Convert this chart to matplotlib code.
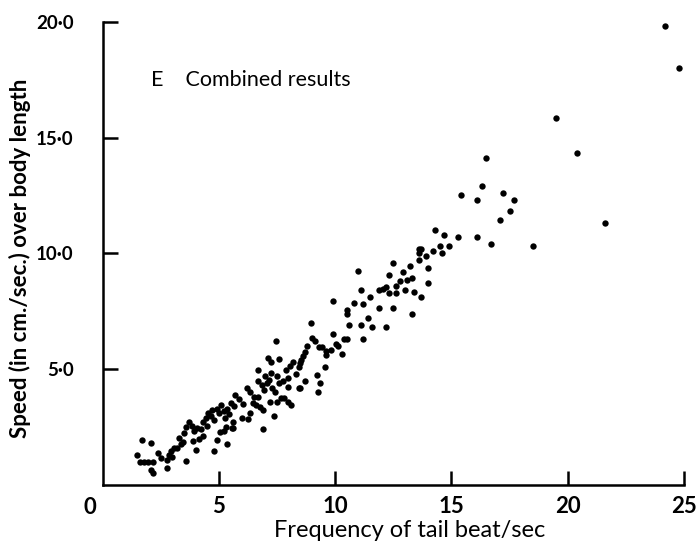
import matplotlib
matplotlib.use("Agg")
import matplotlib.pyplot as plt

# ------------------------------------------------------------------
# Data (tail-beat frequency vs speed/L)
# ------------------------------------------------------------------
freq = [
    # low cluster
    1.7, 2.1, 1.5, 2.4, 1.6, 1.8, 1.95, 2.15, 2.1, 2.15, 2.75, 2.75, 2.85, 2.95,
    3.05, 3.6, 3.2, 3.35, 3.45, 3.0, 3.5, 3.6, 3.7, 3.85, 3.95, 4.05, 4.0, 4.3,
    4.25, 4.3, 4.45, 4.55, 4.65, 4.7, 4.8, 4.8, 4.9, 5.05, 5.3, 5.2, 5.55, 5.35,
    5.6, 5.6, 6.0, 4.9, 5.0, 5.1, 5.2, 5.35, 5.45, 5.5, 5.65, 5.7, 5.85, 5.25,
    4.5, 3.9, 4.15, 2.5, 3.3,
    # middle cluster
    6.25, 6.35, 6.45, 6.6, 6.75, 6.9, 6.35, 6.5, 6.7, 6.7, 6.7, 6.85, 6.95, 7.05,
    7.0, 7.15, 7.25, 7.3, 7.4, 7.2, 7.5, 7.65, 7.8, 7.95, 7.6, 7.75, 7.95, 7.95,
    8.1, 7.1, 7.25, 7.6, 7.45, 8.05, 7.9, 6.2, 6.05, 7.35, 6.9, 7.5,
    # chain 8.4 - 10
    8.45, 8.5, 8.45, 8.5, 8.55, 8.6, 8.7, 8.8, 9.0, 9.15, 9.3, 9.45, 9.6, 9.8,
    10.05, 10.1, 9.55, 9.6, 10.3, 9.25, 9.35, 9.2, 8.95, 8.2, 8.3, 8.7,
    # upper band
    9.9, 10.4, 10.5, 11.2, 10.5, 10.5, 11.4, 10.6, 11.1, 9.9, 10.8, 11.2, 11.5,
    11.1, 11.0, 11.9, 12.5, 11.9, 12.05, 12.2, 12.3, 12.6, 12.6, 12.3, 12.8,
    13.1, 13.3, 13.0, 13.4, 12.9, 13.2, 12.5, 13.7, 14.0, 14.0, 13.6, 13.6,
    13.6, 13.9, 14.2, 14.5, 14.6, 13.7, 14.9, 14.3, 14.7, 15.3, 16.1, 16.7,
    18.5, 15.4, 16.1, 16.3, 16.5, 17.2, 17.7, 17.5, 17.1, 19.5, 20.4, 21.6,
    24.2, 24.8, 13.3, 12.2, 11.6,
]
speed = [
    # low cluster
    1.95, 1.8, 1.3, 1.4, 1.0, 1.0, 1.0, 1.0, 0.65, 0.5, 0.75, 1.1, 1.3, 1.45,
    1.6, 1.05, 1.6, 1.75, 1.85, 1.2, 2.25, 2.5, 2.7, 2.55, 2.35, 2.45, 1.5, 2.1,
    2.4, 2.7, 2.9, 3.1, 3.0, 3.25, 2.8, 1.45, 1.95, 2.3, 2.5, 2.35, 2.45, 1.75,
    2.45, 2.7, 2.9, 3.3, 3.1, 3.45, 3.2, 3.3, 3.05, 3.55, 3.4, 3.9, 3.7, 2.9,
    2.55, 1.9, 2.0, 1.15, 2.05,
    # middle cluster
    2.85, 3.1, 3.55, 3.45, 3.35, 3.25, 4.0, 3.8, 3.8, 4.5, 4.95, 4.3, 4.1, 4.4,
    4.7, 4.55, 4.85, 4.2, 4.0, 3.6, 3.6, 3.75, 3.75, 3.6, 4.4, 4.5, 4.6, 4.25,
    3.45, 5.5, 5.3, 5.45, 6.2, 5.15, 4.95, 4.2, 3.5, 3.0, 2.4, 4.7,
    # chain 8.4 - 10
    4.2, 4.2, 5.1, 5.25, 5.4, 5.55, 5.75, 6.0, 6.35, 6.2, 5.95, 5.95, 5.8, 5.85,
    6.1, 6.0, 5.1, 5.6, 5.65, 4.0, 4.4, 4.75, 7.0, 5.3, 4.8, 4.5,
    # upper band
    6.5, 6.3, 6.3, 6.3, 7.4, 7.55, 7.2, 6.9, 6.9, 7.95, 7.85, 7.8, 8.1,
    8.4, 9.25, 7.65, 7.65, 8.4, 8.45, 8.55, 8.3, 8.3, 8.6, 9.05, 8.8,
    8.85, 8.95, 8.4, 8.35, 9.2, 9.45, 9.6, 8.1, 8.7, 9.35, 10.2, 10.0,
    9.7, 9.9, 10.1, 10.3, 10.0, 10.2, 10.3, 11.0, 10.8, 10.7, 10.7, 10.4,
    10.3, 12.5, 12.3, 12.9, 14.1, 12.6, 12.3, 11.85, 11.45, 15.85, 14.35, 11.3,
    19.8, 18.0, 7.4, 6.8, 6.8,
]

x_ticks = [5, 10, 15, 20, 25]
y_ticks = [5, 10, 15, 20]
y_tick_labels = ["5·0", "10·0", "15·0", "20·0"]

font = ["Lato", "DejaVu Sans"]
plt.rcParams["font.family"] = font

fig = plt.figure(figsize=(6.98, 5.47), dpi=100)
ax = fig.add_axes([0.147, 0.1133, 0.833, 0.847])

ax.scatter(freq, speed, s=21, c="black", linewidths=0, zorder=3)

ax.set_xlim(0, 25)
ax.set_ylim(0, 20)

for side in ["top", "right"]:
    ax.spines[side].set_visible(False)
for side in ["left", "bottom"]:
    ax.spines[side].set_linewidth(1.8)

ax.set_xticks(x_ticks)
ax.set_xticklabels([str(t) for t in x_ticks], fontsize=16, fontweight="bold")
ax.set_yticks(y_ticks)
ax.set_yticklabels(y_tick_labels, fontsize=13.5, fontweight="bold")
ax.tick_params(axis="x", direction="in", length=10, width=1.8, pad=8)
ax.tick_params(axis="y", direction="in", length=11, width=1.8, pad=21)

# the lone "0" at the corner sits left of the axis
ax.text(-0.55, -0.025, "0", transform=ax.get_xaxis_transform(),
        ha="center", va="top", fontsize=16, fontweight="bold")

ax.set_xlabel("Frequency of tail beat/sec", fontsize=17)
ax.xaxis.set_label_coords(0.528, -0.075)
ax.set_ylabel("Speed (in cm./sec.) over body length", fontsize=16,
              fontweight="bold", va="center")
ax.yaxis.set_label_coords(-0.142, 0.49)

ax.text(2.1, 17.5, "E    Combined results", fontsize=15.5, ha="left", va="center")

fig.savefig("out.png", dpi=100)
